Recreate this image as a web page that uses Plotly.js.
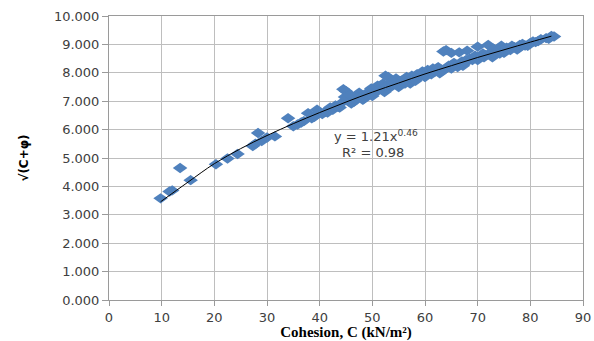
<!DOCTYPE html>
<html>
<head>
<meta charset="utf-8">
<script src="https://cdn.plot.ly/plotly-3.0.1.min.js"></script>
<style>html,body{margin:0;padding:0;background:#fff;}#chart{width:594px;height:341px;}</style>
</head>
<body>
<div id="chart"></div>
<script>
// Observed points (Cohesion C, sqrt(C+phi))
const cohesion = [
  9.8, 11.5, 12.0, 13.5, 15.5, 20.3, 22.5, 24.4, 27.3, 27.8, 28.3, 29.0, 30.0, 31.5,
  34.0, 35.0, 35.8, 36.5, 37.0, 37.8, 38.5, 39.0, 39.5, 40.5, 41.0, 42.0, 42.5, 43.0, 43.5,
  44.0, 44.5, 45.0, 45.5, 46.0, 46.5, 47.0, 47.5, 48.0, 48.5, 49.0, 49.5, 50.0, 50.5, 51.0,
  51.5, 52.0, 52.5, 53.0, 53.5, 54.0, 54.5, 55.0, 55.5, 56.0, 56.5, 57.0, 57.5, 58.0, 58.5,
  59.0, 59.5, 60.0, 60.5, 61.0, 61.5, 62.0, 62.5, 63.0, 63.5, 64.0, 64.5, 65.0, 65.5, 66.0,
  66.5, 67.0, 67.5, 68.0, 68.5, 69.0, 69.5, 70.0, 70.5, 71.0, 71.5, 72.0, 72.5, 73.0, 73.5,
  74.0, 74.5, 75.0, 75.5, 76.0, 76.5, 77.0, 78.0, 78.5, 79.0, 80.0, 80.5, 81.0, 82.0, 83.0,
  84.0, 84.5,
  41.5, 43.8, 46.0, 48.2, 50.0, 52.3, 55.0, 57.2, 60.0, 62.8, 65.0, 67.2, 70.0, 72.8, 75.0, 77.5, 79.5,
  44.8, 45.8, 47.2, 49.8, 51.2, 52.8, 53.8, 54.8, 56.2, 58.2, 59.2, 61.2, 63.2, 64.2, 65.2, 66.2,
  67.8, 69.2, 71.2, 73.2, 74.2, 76.2, 77.8, 81.5, 83.5
];
const rootCphi = [
  3.58, 3.82, 3.86, 4.65, 4.22, 4.78, 4.98, 5.14, 5.42, 5.50, 5.88, 5.60, 5.72, 5.76,
  6.40, 6.12, 6.18, 6.25, 6.30, 6.58, 6.40, 6.45, 6.70, 6.55, 6.62, 6.78, 6.70, 6.85, 6.80,
  6.92, 7.42, 7.35, 7.00, 7.10, 6.98, 7.15, 7.30, 7.20, 7.10, 7.30, 7.25, 7.40, 7.30, 7.55,
  7.45, 7.62, 7.90, 7.85, 7.50, 7.65, 7.80, 7.60, 7.72, 7.68, 7.85, 7.75, 7.90, 7.80, 7.95,
  7.88, 8.05, 7.95, 8.10, 8.02, 8.15, 8.05, 8.20, 8.12, 8.75, 8.80, 8.25, 8.70, 8.35, 8.28,
  8.72, 8.40, 8.33, 8.78, 8.50, 8.45, 8.60, 8.92, 8.55, 8.68, 8.62, 8.98, 8.72, 8.85, 8.70,
  8.80, 8.95, 8.78, 8.88, 8.85, 8.95, 8.90, 8.98, 9.02, 8.96, 9.05, 9.10, 9.08, 9.18, 9.22,
  9.30, 9.28,
  6.60, 6.78, 6.92, 7.05, 7.18, 7.32, 7.50, 7.62, 7.85, 7.98, 8.15, 8.25, 8.45, 8.55, 8.70, 8.82, 8.95,
  7.15, 7.22, 7.12, 7.45, 7.40, 7.55, 7.70, 7.58, 7.62, 7.72, 7.95, 7.95, 8.05, 8.18, 8.28, 8.20,
  8.45, 8.50, 8.55, 8.65, 8.68, 8.80, 8.88, 9.12, 9.20
];
// Power trendline y = 1.21x^0.46, read at a few points
const trendX = [9.8, 15, 20, 25, 30, 35, 40, 45, 50, 55, 60, 65, 70, 75, 80, 84];
const trendY = [3.46, 4.15, 4.80, 5.33, 5.79, 6.21, 6.60, 6.97, 7.32, 7.64, 7.96, 8.25, 8.54, 8.81, 9.08, 9.29];
const xTicks = [0, 10, 20, 30, 40, 50, 60, 70, 80, 90];
const yTicks = [0, 1, 2, 3, 4, 5, 6, 7, 8, 9, 10];
const yTickText = ['0.000','1.000','2.000','3.000','4.000','5.000','6.000','7.000','8.000','9.000','10.000'];

const data = [
  {x: cohesion, y: rootCphi, type: 'scatter', mode: 'markers',
   marker: {symbol: 'diamond', size: 8, color: '#4F81BD', line: {width: 0}}, hoverinfo: 'none'},
  {x: trendX, y: trendY, type: 'scatter', mode: 'lines',
   line: {color: '#000000', width: 1, shape: 'spline'}, hoverinfo: 'none'}
];
const tickFont = {family: 'DejaVu Sans', size: 13, color: '#404040'};
const layout = {
  width: 594, height: 341,
  margin: {l: 109, r: 11, t: 16, b: 41},
  paper_bgcolor: '#ffffff', plot_bgcolor: '#ffffff',
  showlegend: false,
  xaxis: {range: [0, 90], tickvals: xTicks, ticktext: xTicks.map(String),
    showgrid: true, gridcolor: '#BEBEBE', gridwidth: 1, zeroline: false,
    showline: true, linecolor: '#9A9A9A', mirror: true, ticks: 'outside', ticklen: 5, tickcolor: '#9A9A9A',
    tickfont: tickFont, fixedrange: true,
    title: {text: 'Cohesion, C (kN/m²)', font: {family: 'Liberation Serif', size: 15, color: '#000'}, standoff: 4}},
  yaxis: {range: [0, 10], tickvals: yTicks, ticktext: yTickText,
    showgrid: true, gridcolor: '#BEBEBE', gridwidth: 1, zeroline: false,
    showline: true, linecolor: '#9A9A9A', mirror: true, ticks: 'outside', ticklen: 6, tickcolor: '#9A9A9A',
    tickfont: tickFont, fixedrange: true,
    title: {text: '<b>√(C+φ)</b>', font: {family: 'DejaVu Sans', size: 12, color: '#000'}, standoff: 22}},
  annotations: [
    {xref: 'paper', yref: 'paper', x: 0.563, y: 0.578, showarrow: false,
     text: 'y = 1.21x<sup>0.46</sup>', font: {family: 'DejaVu Sans', size: 13, color: '#404040'}},
    {xref: 'paper', yref: 'paper', x: 0.556, y: 0.518, showarrow: false,
     text: 'R² = 0.98', font: {family: 'DejaVu Sans', size: 13, color: '#404040'}}
  ]
};
Plotly.newPlot('chart', data, layout, {staticPlot: true, displayModeBar: false}).then(function(gd){
  document.querySelectorAll('.xtitle').forEach(function(t){ t.style.fontWeight = 'bold'; });
  // the reference's diamonds are wider than tall
  document.querySelectorAll('.scatterlayer .trace:first-child .point').forEach(function(p){
    const tr = p.getAttribute('transform') || '';
    p.setAttribute('transform', tr + ' scale(1.4,1)');
  });
});
</script>
</body>
</html>
